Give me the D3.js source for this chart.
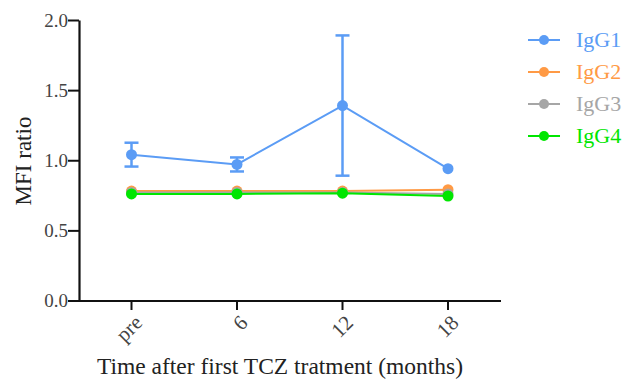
<!DOCTYPE html>
<html>
<head>
<meta charset="utf-8">
<script src="https://cdn.jsdelivr.net/npm/d3@7"></script>
<style>
  body { margin: 0; background: #fff; }
  text { font-family: "Liberation Serif", "Times New Roman", serif; }
</style>
</head>
<body>
<div id="chart"></div>
<script>
// categories and values
var timepoints = ["pre", "6", "12", "18"];
var seriesNames = ["IgG1", "IgG2", "IgG3", "IgG4"];
var seriesColors = ["#5b9cf5", "#ff9a45", "#a6a6a6", "#00e600"];
var igg1 = [1.04, 0.97, 1.39, 0.94];
var igg1Err = [0.085, 0.05, 0.50, 0.0];
var igg2 = [0.78, 0.78, 0.78, 0.79];
var igg3 = [0.77, 0.77, 0.77, 0.76];
var igg4 = [0.76, 0.76, 0.765, 0.745];
var yTicks = [0.0, 0.5, 1.0, 1.5, 2.0];

var allSeries = [
  {name: seriesNames[0], values: igg1, err: igg1Err, color: seriesColors[0]},
  {name: seriesNames[1], values: igg2, err: null, color: seriesColors[1]},
  {name: seriesNames[2], values: igg3, err: null, color: seriesColors[2]},
  {name: seriesNames[3], values: igg4, err: null, color: seriesColors[3]}
];

var width = 625, height = 383;
var svg = d3.select("#chart").append("svg")
    .attr("width", width)
    .attr("height", height);

// scales
var x = d3.scalePoint().domain(timepoints).range([131.5, 448]);
var y = d3.scaleLinear().domain([0, 2]).range([300.5, 20]);

// y axis
var yAxis = svg.append("g")
    .attr("transform", "translate(79,0)")
    .call(d3.axisLeft(y).tickValues(yTicks).tickFormat(d3.format(".1f")).tickSize(11).tickSizeOuter(0));
yAxis.select(".domain").attr("stroke", "#111").attr("stroke-width", 2.2);
yAxis.selectAll(".tick line").attr("stroke", "#111").attr("stroke-width", 2);
yAxis.selectAll(".tick text")
    .attr("x", -11)
    .attr("fill", "#444")
    .style("font-size", "19px")
    .style("font-family", "'Liberation Serif', serif");

// x axis
var xAxisG = svg.append("g")
    .attr("transform", "translate(0,301)");
xAxisG.append("line")
    .attr("x1", 78).attr("x2", 501)
    .attr("stroke", "#111").attr("stroke-width", 2.2);
xAxisG.selectAll(".xt")
    .data(timepoints)
    .enter().append("line")
    .attr("class", "xt")
    .attr("x1", function(d) { return x(d); })
    .attr("x2", function(d) { return x(d); })
    .attr("y1", 0).attr("y2", 9)
    .attr("stroke", "#111").attr("stroke-width", 2);
xAxisG.selectAll(".xl")
    .data(timepoints)
    .enter().append("text")
    .attr("class", "xl")
    .attr("text-anchor", "end")
    .attr("fill", "#444")
    .style("font-size", "21px")
    .style("font-family", "'Liberation Serif', serif")
    .attr("transform", function(d) { return "translate(" + (x(d) + 12) + ",23) rotate(-45)"; })
    .text(function(d) { return d; });

// axis titles
svg.append("text")
    .attr("x", 280).attr("y", 374)
    .attr("text-anchor", "middle")
    .attr("fill", "#222")
    .style("font-size", "23.5px")
    .text("Time after first TCZ tratment (months)");
svg.append("text")
    .attr("transform", "translate(31,161) rotate(-90)")
    .attr("text-anchor", "middle")
    .attr("fill", "#222")
    .style("font-size", "23px")
    .text("MFI ratio");

// lines, error bars and markers, green drawn last as in the figure
allSeries.forEach(function(s) {
  var g = svg.append("g");
  var line = d3.line()
      .x(function(d, j) { return x(timepoints[j]); })
      .y(function(d) { return y(d); });
  g.append("path")
      .datum(s.values)
      .attr("fill", "none")
      .attr("stroke", s.color)
      .attr("stroke-width", 2)
      .attr("d", line);
  if (s.err) {
    s.values.forEach(function(v, j) {
      if (!s.err[j]) return;
      var cx = x(timepoints[j]);
      g.append("line")
          .attr("x1", cx).attr("x2", cx)
          .attr("y1", y(v + s.err[j])).attr("y2", y(v - s.err[j]))
          .attr("stroke", s.color).attr("stroke-width", 2.5);
      [v + s.err[j], v - s.err[j]].forEach(function(e) {
        g.append("line")
            .attr("x1", cx - 7).attr("x2", cx + 7)
            .attr("y1", y(e)).attr("y2", y(e))
            .attr("stroke", s.color).attr("stroke-width", 2.5);
      });
    });
  }
  g.selectAll("circle")
      .data(s.values)
      .enter().append("circle")
      .attr("cx", function(d, j) { return x(timepoints[j]); })
      .attr("cy", function(d) { return y(d); })
      .attr("r", 5.5)
      .attr("fill", s.color);
});

// legend
var legend = svg.append("g");
allSeries.forEach(function(s, i) {
  var ly = 40 + i * 32;
  legend.append("line")
      .attr("x1", 528).attr("x2", 560)
      .attr("y1", ly).attr("y2", ly)
      .attr("stroke", s.color).attr("stroke-width", 2);
  legend.append("circle")
      .attr("cx", 544).attr("cy", ly).attr("r", 5)
      .attr("fill", s.color);
  legend.append("text")
      .attr("x", 576).attr("y", ly + 7)
      .attr("fill", s.color)
      .style("font-size", "22px")
      .text(s.name);
});
</script>
</body>
</html>
